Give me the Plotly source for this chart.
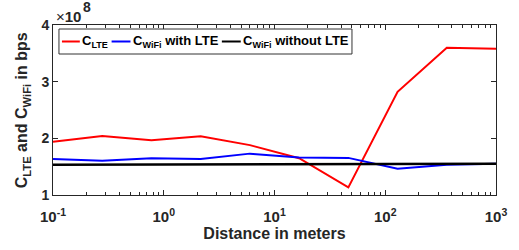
import plotly.graph_objects as go

distance = [0.1, 0.2783, 0.7743, 2.154, 5.995, 16.68, 46.42, 129.2, 359.4, 1000]
c_lte = [1.94, 2.04, 1.965, 2.035, 1.88, 1.65, 1.135, 2.82, 3.60, 3.58]
c_wifi_lte = [1.635, 1.605, 1.65, 1.635, 1.73, 1.66, 1.655, 1.465, 1.535, 1.55]
c_wifi_no_lte = [1.535, 1.538, 1.54, 1.54, 1.542, 1.543, 1.545, 1.547, 1.55, 1.552]
scale_exp = 8
x_tickvals = [0.1, 1, 10, 100, 1000]
x_ticktext = ["10<sup>-1</sup>", "10<sup>0</sup>", "10<sup>1</sup>", "10<sup>2</sup>", "10<sup>3</sup>"]
y_tickvals = [1, 2, 3, 4]

FONT = "Liberation Sans, Arial, sans-serif"
TXT = "#262626"

minor_x = [k * 10.0 ** e for e in range(-1, 3) for k in range(2, 10)]

fig = go.Figure()
fig.add_trace(go.Scatter(x=distance, y=c_lte, mode="lines", line=dict(color="#ff0000", width=2), showlegend=False))
fig.add_trace(go.Scatter(x=distance, y=c_wifi_lte, mode="lines", line=dict(color="#0000ff", width=2), showlegend=False))
fig.add_trace(go.Scatter(x=distance, y=c_wifi_no_lte, mode="lines", line=dict(color="#000000", width=2.5), showlegend=False))

L, R, T, B = 53, 20, 25, 55
W, H = 519, 250
pw, ph = W - L - R, H - T - B

def px(x):
    return (x - L) / pw

def py(y):
    return (H - B - y) / ph

shapes = [
    dict(type="rect", xref="paper", yref="paper", x0=px(59), x1=px(354), y0=py(29), y1=py(54),
         line=dict(color="#333333", width=1), fillcolor="white"),
]
legend_items = [
    ("#ff0000", 62, 80, "C<sub>LTE</sub>"),
    ("#0000ff", 112, 131, "C<sub>WiFi</sub> with LTE"),
    ("#000000", 223, 242, "C<sub>WiFi</sub> without LTE"),
]
annotations = []
for col, a, b, txt in legend_items:
    shapes.append(dict(type="line", xref="paper", yref="paper", x0=px(a), x1=px(b), y0=py(41.5), y1=py(41.5),
                       line=dict(color=col, width=2)))
    annotations.append(dict(xref="paper", yref="paper", x=px(b + 0.5), y=py(41.5), xanchor="left", yanchor="middle",
                            text="<b>" + txt + "</b>", showarrow=False, font=dict(size=13, color="black", family=FONT)))

# exponent label
annotations.append(dict(xref="paper", yref="paper", x=px(54), y=py(17), xanchor="left", yanchor="middle",
                        text="×<b>10</b>", showarrow=False, font=dict(size=15, color=TXT, family=FONT)))
annotations.append(dict(xref="paper", yref="paper", x=px(81), y=py(7), xanchor="left", yanchor="middle",
                        text="<b>%d</b>" % scale_exp, showarrow=False, font=dict(size=14, color=TXT, family=FONT)))
# y axis title
annotations.append(dict(xref="paper", yref="paper", x=px(22), y=0.5, xanchor="center", yanchor="middle",
                        textangle=-90, text="<b>C<sub>LTE</sub> and C<sub>WiFi</sub> in bps</b>", showarrow=False,
                        font=dict(size=16, color=TXT, family=FONT)))

fig.update_layout(
    width=W, height=H,
    margin=dict(l=L, r=R, t=T, b=B),
    paper_bgcolor="white", plot_bgcolor="white",
    font=dict(family=FONT, color=TXT),
    shapes=shapes, annotations=annotations,
    xaxis=dict(type="log", range=[-1, 3], tickmode="array", tickvals=x_tickvals,
               ticktext=["<b>%s</b>" % t for t in x_ticktext],
               ticks="inside", ticklen=5, tickcolor=TXT, showline=True, linecolor=TXT, linewidth=1,
               mirror="ticks", showgrid=False, zeroline=False, tickfont=dict(size=15),
               ticklabelstandoff=8,
               minor=dict(tickmode="array", tickvals=minor_x, ticks="inside", ticklen=3, tickcolor=TXT, showgrid=False),
               title=dict(text="<b>Distance in meters</b>", font=dict(size=16), standoff=0)),
    yaxis=dict(range=[1, 4], tickmode="array", tickvals=y_tickvals, ticktext=["<b>%d</b>" % v for v in y_tickvals],
               ticks="inside", ticklen=5, tickcolor=TXT, showline=True, linecolor=TXT, linewidth=1,
               mirror="ticks", showgrid=False, zeroline=False, tickfont=dict(size=14)),
)

fig.write_html("out.html", config={"displayModeBar": False},
               post_script="document.body.style.margin='0';")
